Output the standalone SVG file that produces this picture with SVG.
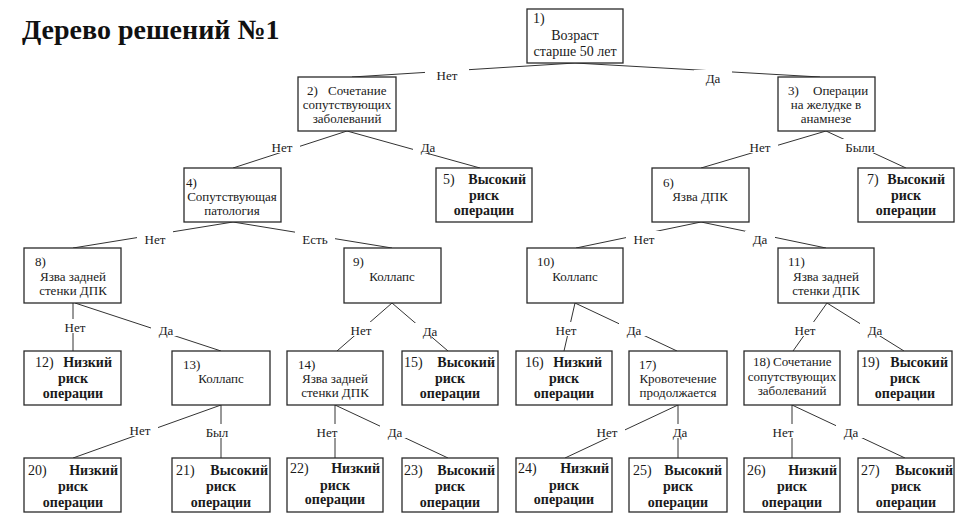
<svg xmlns="http://www.w3.org/2000/svg" width="975" height="531" viewBox="0 0 975 531">
<style>
.box{fill:#fff;stroke:#2a2a2a;stroke-width:1.3}
.ln{stroke:#333;stroke-width:1;fill:none}
.t{font-family:'Liberation Serif','Times New Roman','DejaVu Serif',serif;font-size:13px;fill:#1a1a1a}
.m{text-anchor:middle}
.e{text-anchor:end}
.b{font-weight:bold;font-size:14px}
.n{font-size:14px}
.lb{fill:#fff}
.title{font-family:'Liberation Serif','Times New Roman','DejaVu Serif',serif;font-size:28px;font-weight:bold;fill:#111}
</style>
<rect width="975" height="531" fill="#fff"/>
<text class="title" x="22" y="39" font-family="Liberation Serif, serif">Дерево решений №1</text>
<g id="connectors">
<line class="ln" x1="575" y1="63" x2="352" y2="77"/>
<line class="ln" x1="575" y1="63" x2="820" y2="77"/>
<line class="ln" x1="347" y1="131" x2="233" y2="168"/>
<line class="ln" x1="347" y1="131" x2="480" y2="168"/>
<line class="ln" x1="826" y1="131" x2="701" y2="168"/>
<line class="ln" x1="826" y1="131" x2="906" y2="168"/>
<line class="ln" x1="233" y1="222" x2="73" y2="248"/>
<line class="ln" x1="233" y1="222" x2="392" y2="248"/>
<line class="ln" x1="701" y1="222" x2="576" y2="248"/>
<line class="ln" x1="701" y1="222" x2="826" y2="248"/>
<line class="ln" x1="73" y1="303" x2="73" y2="351"/>
<line class="ln" x1="75" y1="303" x2="221" y2="351"/>
<line class="ln" x1="392" y1="303" x2="337" y2="351"/>
<line class="ln" x1="392" y1="303" x2="448" y2="351"/>
<line class="ln" x1="575" y1="303" x2="564" y2="351"/>
<line class="ln" x1="575" y1="303" x2="677" y2="351"/>
<line class="ln" x1="827" y1="303" x2="793" y2="351"/>
<line class="ln" x1="827" y1="303" x2="904" y2="351"/>
<line class="ln" x1="221" y1="405" x2="73" y2="458"/>
<line class="ln" x1="221" y1="405" x2="221" y2="458"/>
<line class="ln" x1="335" y1="405" x2="335" y2="458"/>
<line class="ln" x1="335" y1="405" x2="448" y2="458"/>
<line class="ln" x1="678" y1="405" x2="565" y2="458"/>
<line class="ln" x1="678" y1="405" x2="678" y2="458"/>
<line class="ln" x1="792" y1="405" x2="792" y2="458"/>
<line class="ln" x1="792" y1="405" x2="905" y2="458"/>
<g id="edge-labels">
<rect class="lb" x="425" y="67" width="44" height="14"/><text class="t m" x="447" y="79.5">Нет</text>
<rect class="lb" x="694" y="70" width="38" height="14"/><text class="t m" x="713" y="82.5">Да</text>
<rect class="lb" x="264" y="139" width="36" height="14"/><text class="t m" x="282" y="151.5">Нет</text>
<rect class="lb" x="413" y="139" width="30" height="14"/><text class="t m" x="428" y="151.5">Да</text>
<rect class="lb" x="742" y="139" width="36" height="14"/><text class="t m" x="760" y="151.5">Нет</text>
<rect class="lb" x="840" y="139" width="40" height="14"/><text class="t m" x="860" y="151.5">Были</text>
<rect class="lb" x="137" y="231" width="36" height="14"/><text class="t m" x="155" y="243.5">Нет</text>
<rect class="lb" x="295" y="231" width="40" height="14"/><text class="t m" x="315" y="243.5">Есть</text>
<rect class="lb" x="626" y="231" width="36" height="14"/><text class="t m" x="644" y="243.5">Нет</text>
<rect class="lb" x="745" y="231" width="30" height="14"/><text class="t m" x="760" y="243.5">Да</text>
<rect class="lb" x="57" y="319" width="36" height="14"/><text class="t m" x="75" y="331.5">Нет</text>
<rect class="lb" x="151" y="322" width="30" height="14"/><text class="t m" x="166" y="334.5">Да</text>
<rect class="lb" x="343" y="322" width="36" height="14"/><text class="t m" x="361" y="334.5">Нет</text>
<rect class="lb" x="415" y="323" width="30" height="14"/><text class="t m" x="430" y="335.5">Да</text>
<rect class="lb" x="548" y="322" width="36" height="14"/><text class="t m" x="566" y="334.5">Нет</text>
<rect class="lb" x="619" y="322" width="30" height="14"/><text class="t m" x="634" y="334.5">Да</text>
<rect class="lb" x="787" y="322" width="36" height="14"/><text class="t m" x="805" y="334.5">Нет</text>
<rect class="lb" x="860" y="322" width="30" height="14"/><text class="t m" x="875" y="334.5">Да</text>
<rect class="lb" x="122" y="422" width="36" height="14"/><text class="t m" x="140" y="434.5">Нет</text>
<rect class="lb" x="200" y="424" width="34" height="14"/><text class="t m" x="217" y="436.5">Был</text>
<rect class="lb" x="309" y="424" width="36" height="14"/><text class="t m" x="327" y="436.5">Нет</text>
<rect class="lb" x="380" y="424" width="30" height="14"/><text class="t m" x="395" y="436.5">Да</text>
<rect class="lb" x="589" y="424" width="36" height="14"/><text class="t m" x="607" y="436.5">Нет</text>
<rect class="lb" x="665" y="424" width="30" height="14"/><text class="t m" x="680" y="436.5">Да</text>
<rect class="lb" x="765" y="424" width="36" height="14"/><text class="t m" x="783" y="436.5">Нет</text>
<rect class="lb" x="836" y="424" width="30" height="14"/><text class="t m" x="851" y="436.5">Да</text>
</g>
</g>
<g id="n1"><rect class="box" x="527" y="9" width="96" height="54"/><text class="t n" x="533" y="23">1)</text><text class="t n m" x="575" y="40">Возраст</text><text class="t n m" x="575" y="56">старше 50 лет</text></g>
<g id="n2"><rect class="box" x="298" y="77" width="98" height="54"/><text class="t" x="307" y="95">2)</text><text class="t" x="328" y="95">Сочетание</text><text class="t m" x="347" y="109">сопутствующих</text><text class="t m" x="347" y="123">заболеваний</text></g>
<g id="n3"><rect class="box" x="778" y="77" width="97" height="54"/><text class="t" x="788" y="95">3)</text><text class="t" x="813" y="95">Операции</text><text class="t m" x="826" y="109">на желудке в</text><text class="t m" x="826" y="123">анамнезе</text></g>
<g id="n4"><rect class="box" x="184" y="168" width="97" height="54"/><text class="t" x="186" y="187">4)</text><text class="t m" x="232" y="201">Сопутствующая</text><text class="t m" x="232" y="215">патология</text></g>
<g id="n5"><rect class="box" x="436" y="168" width="96" height="54"/><text class="t n" x="443" y="184">5)</text><text class="t b e" x="526" y="184">Высокий</text><text class="t b m" x="484" y="200">риск</text><text class="t b m" x="484" y="215">операции</text></g>
<g id="n6"><rect class="box" x="652" y="168" width="97" height="54"/><text class="t" x="663" y="187">6)</text><text class="t m" x="700" y="201">Язва ДПК</text></g>
<g id="n7"><rect class="box" x="858" y="168" width="96" height="54"/><text class="t n" x="867" y="184">7)</text><text class="t b e" x="945" y="184">Высокий</text><text class="t b m" x="906" y="200">риск</text><text class="t b m" x="906" y="215">операции</text></g>
<g id="n8"><rect class="box" x="24" y="248" width="97" height="55"/><text class="t" x="35" y="266">8)</text><text class="t m" x="73" y="281">Язва задней</text><text class="t m" x="73" y="295">стенки ДПК</text></g>
<g id="n9"><rect class="box" x="344" y="248" width="97" height="55"/><text class="t" x="353" y="266">9)</text><text class="t m" x="392" y="281">Коллапс</text></g>
<g id="n10"><rect class="box" x="527" y="248" width="96" height="55"/><text class="t" x="537" y="266">10)</text><text class="t m" x="575" y="281">Коллапс</text></g>
<g id="n11"><rect class="box" x="778" y="248" width="96" height="55"/><text class="t" x="788" y="266">11)</text><text class="t m" x="826" y="281">Язва задней</text><text class="t m" x="826" y="295">стенки ДПК</text></g>
<g id="n12"><rect class="box" x="24" y="351" width="97" height="54"/><text class="t n" x="35" y="367">12)</text><text class="t b e" x="112" y="367">Низкий</text><text class="t b m" x="73" y="383">риск</text><text class="t b m" x="73" y="398">операции</text></g>
<g id="n13"><rect class="box" x="172" y="351" width="98" height="54"/><text class="t" x="183" y="369">13)</text><text class="t m" x="221" y="383">Коллапс</text></g>
<g id="n14"><rect class="box" x="287" y="351" width="96" height="54"/><text class="t" x="298" y="369">14)</text><text class="t m" x="335" y="383">Язва задней</text><text class="t m" x="335" y="397">стенки ДПК</text></g>
<g id="n15"><rect class="box" x="402" y="351" width="96" height="54"/><text class="t n" x="404" y="367">15)</text><text class="t b e" x="495" y="367">Высокий</text><text class="t b m" x="450" y="383">риск</text><text class="t b m" x="450" y="398">операции</text></g>
<g id="n16"><rect class="box" x="516" y="351" width="96" height="54"/><text class="t n" x="525" y="367">16)</text><text class="t b e" x="602" y="367">Низкий</text><text class="t b m" x="564" y="383">риск</text><text class="t b m" x="564" y="398">операции</text></g>
<g id="n17"><rect class="box" x="629" y="351" width="98" height="54"/><text class="t" x="639" y="369">17)</text><text class="t m" x="678" y="383">Кровотечение</text><text class="t m" x="678" y="397">продолжается</text></g>
<g id="n18"><rect class="box" x="744" y="351" width="96" height="54"/><text class="t" x="753" y="366">18)</text><text class="t" x="773" y="366">Сочетание</text><text class="t m" x="792" y="381">сопутствующих</text><text class="t m" x="792" y="395">заболеваний</text></g>
<g id="n19"><rect class="box" x="858" y="351" width="94" height="54"/><text class="t n" x="861" y="367">19)</text><text class="t b e" x="948" y="367">Высокий</text><text class="t b m" x="905" y="383">риск</text><text class="t b m" x="905" y="398">операции</text></g>
<g id="n20"><rect class="box" x="24" y="458" width="97" height="54"/><text class="t n" x="28" y="475">20)</text><text class="t b e" x="118" y="475">Низкий</text><text class="t b m" x="73" y="491">риск</text><text class="t b m" x="73" y="507">операции</text></g>
<g id="n21"><rect class="box" x="172" y="458" width="98" height="54"/><text class="t n" x="176" y="475">21)</text><text class="t b e" x="268" y="475">Высокий</text><text class="t b m" x="221" y="491">риск</text><text class="t b m" x="221" y="507">операции</text></g>
<g id="n22"><rect class="box" x="287" y="458" width="96" height="54"/><text class="t n" x="290" y="473">22)</text><text class="t b e" x="380" y="473">Низкий</text><text class="t b m" x="335" y="490">риск</text><text class="t b m" x="335" y="504">операции</text></g>
<g id="n23"><rect class="box" x="402" y="458" width="96" height="54"/><text class="t n" x="404" y="475">23)</text><text class="t b e" x="495" y="475">Высокий</text><text class="t b m" x="450" y="491">риск</text><text class="t b m" x="450" y="507">операции</text></g>
<g id="n24"><rect class="box" x="516" y="458" width="96" height="54"/><text class="t n" x="518" y="473">24)</text><text class="t b e" x="609" y="473">Низкий</text><text class="t b m" x="564" y="490">риск</text><text class="t b m" x="564" y="504">операции</text></g>
<g id="n25"><rect class="box" x="629" y="458" width="98" height="54"/><text class="t n" x="633" y="475">25)</text><text class="t b e" x="722" y="475">Высокий</text><text class="t b m" x="678" y="491">риск</text><text class="t b m" x="678" y="507">операции</text></g>
<g id="n26"><rect class="box" x="744" y="458" width="96" height="54"/><text class="t n" x="747" y="475">26)</text><text class="t b e" x="837" y="475">Низкий</text><text class="t b m" x="792" y="491">риск</text><text class="t b m" x="792" y="507">операции</text></g>
<g id="n27"><rect class="box" x="858" y="458" width="96" height="54"/><text class="t n" x="861" y="475">27)</text><text class="t b e" x="953" y="475">Высокий</text><text class="t b m" x="906" y="491">риск</text><text class="t b m" x="906" y="507">операции</text></g>
</svg>
